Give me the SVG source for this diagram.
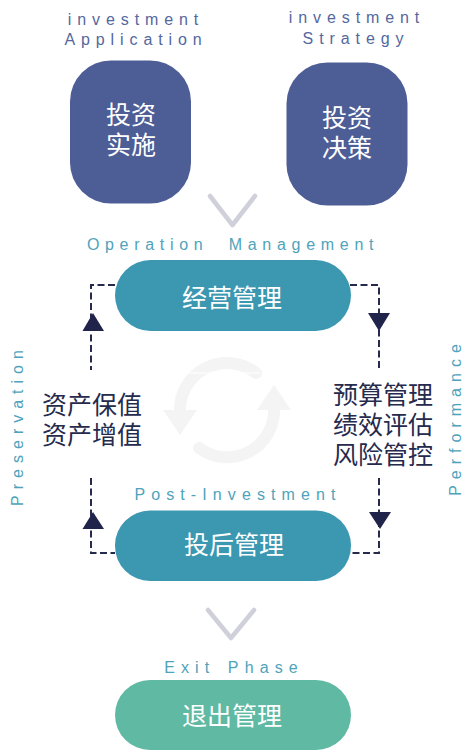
<svg xmlns="http://www.w3.org/2000/svg" width="476" height="750" viewBox="0 0 476 750">
<style>
.en{font-family:"Liberation Sans",Arial,sans-serif;font-size:16px;text-anchor:middle}
.b{fill:#5468a0;letter-spacing:5.9px}
.t{fill:#4fa3bb;letter-spacing:6.1px}
.v{fill:#4fa3bb;letter-spacing:6px}
.cn{font-family:"Noto Sans CJK SC","Noto Sans",sans-serif;font-weight:400;text-anchor:middle}
.w{fill:#fff;font-size:25px}
.d{fill:#262a4d;font-size:25px}
.dash{fill:none;stroke:#262a4d;stroke-width:2;stroke-dasharray:7 3.5}
.tri{fill:#20234a}
.chev{fill:none;stroke:#d0d0da;stroke-width:4.5;stroke-linecap:round;stroke-linejoin:round}
.ring{fill:none;stroke:#f4f4f5;stroke-width:12;stroke-linecap:round}
</style>
<g id="cycle">
<path class="ring" d="M180 412A47 47 0 0 1 256 373"/>
<path class="ring" d="M274 408A47 47 0 0 1 199 448"/>
<path d="M163 410H197L180 435Z" fill="#f4f4f5"/>
<path d="M257 410H291L274 385Z" fill="#f4f4f5"/>
<rect x="187" y="372.500" width="73" height="1" fill="#fff"/>
</g>
<g id="connectors">
<path class="dash" d="M115 285H91V370"/>
<path class="dash" d="M350 285H379V370"/>
<path class="dash" d="M91 478V553H115"/>
<path class="dash" d="M379 478V553H351"/>
<path class="tri" d="M82.500 331H104L93 313Z"/>
<path class="tri" d="M368 313H390L379 331Z"/>
<path class="tri" d="M82.500 529H104L93 512Z"/>
<path class="tri" d="M369 512H391L380 529Z"/>
<path class="chev" d="M210 196L232.500 225L255 196"/>
<path class="chev" d="M208 610L231 638L254 610"/>
</g>
<g id="node-application">
<text class="en b" x="136" y="25">investment</text>
<text class="en b" x="136" y="45">Application</text>
<rect x="70" y="60.500" width="121" height="143" rx="41" fill="#4d5d96"/>
<text class="cn w" x="131" y="124">投资</text>
<text class="cn w" x="131" y="154">实施</text>
</g>
<g id="node-strategy">
<text class="en b" x="357" y="23">investment</text>
<text class="en b" x="356" y="44">Strategy</text>
<rect x="286.500" y="62.500" width="121" height="143" rx="41" fill="#4d5d96"/>
<text class="cn w" x="347" y="127">投资</text>
<text class="cn w" x="347" y="157">决策</text>
</g>
<g id="node-operation">
<text class="en t" x="233" y="250" style="letter-spacing:5.7px" xml:space="preserve">Operation  Management</text>
<rect x="115" y="260" width="236" height="71" rx="35.500" fill="#3c97b1"/>
<text class="cn w" x="232" y="307">经营管理</text>
</g>
<g id="node-preservation">
<text class="en v" transform="translate(23 425) rotate(-90)">Preservation</text>
<text class="cn d" x="92" y="414">资产保值</text>
<text class="cn d" x="92" y="444">资产增值</text>
</g>
<g id="node-performance">
<text class="en v" transform="translate(461 417) rotate(-90)">Performance</text>
<text class="cn d" x="383" y="404">预算管理</text>
<text class="cn d" x="383" y="434">绩效评估</text>
<text class="cn d" x="383" y="464">风险管控</text>
</g>
<g id="node-post">
<text class="en t" x="238" y="500">Post-Investment</text>
<rect x="115" y="510.500" width="236" height="70.500" rx="35" fill="#3c97b1"/>
<text class="cn w" x="234" y="554">投后管理</text>
</g>
<g id="node-exit">
<text class="en t" x="234" y="673" word-spacing="2">Exit Phase</text>
<rect x="115" y="680" width="236" height="70" rx="35" fill="#5fb9a3"/>
<text class="cn w" x="232" y="725">退出管理</text>
</g>
</svg>
